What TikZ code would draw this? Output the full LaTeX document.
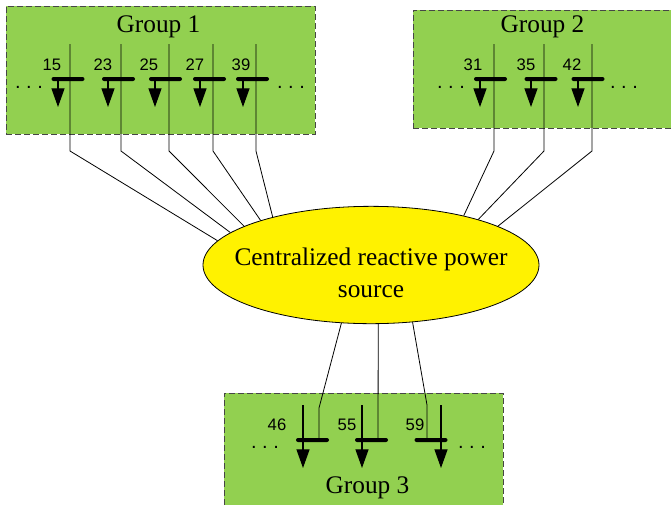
\documentclass[tikz,border=0pt]{standalone}
\usepackage{fontspec}
\setmainfont{Liberation Serif}
\setsansfont{Liberation Sans}
\usetikzlibrary{shapes,arrows,arrows.meta}

\definecolor{grpgreen}{RGB}{146,208,80}
\definecolor{edgegray}{RGB}{70,70,70}

\begin{document}
\begin{tikzpicture}[x=0.75pt,y=-0.75pt,
    group/.style={draw=edgegray,dash pattern=on 4.5pt off 2.25pt,fill=grpgreen,line width=0.75pt,inner sep=0pt},
    title/.style={font=\rmfamily\fontsize{19}{24}\selectfont,anchor=base},
    source/.style={ellipse,draw,fill=yellow,line width=0.6pt,minimum width=252pt,minimum height=88pt,inner sep=0pt},
    bus/.style={fill=black,rounded corners=1.5pt,minimum width=24.75pt,minimum height=3pt,inner sep=0pt},
    num/.style={font=\sffamily\fontsize{12.5}{14}\selectfont},
    dots/.style={font=\sffamily\fontsize{15}{16}\selectfont},
    wire/.style={line width=0.6pt},
    load/.style={line width=0.9pt,-{Triangle[length=14pt,width=9.75pt]}}]
        \useasboundingbox (0,0) rectangle (671,504);
        % groups
        \node[group,minimum width=231.75pt,minimum height=96pt] (grp1) at (160.5,70) {};
        \node[group,minimum width=200.25pt,minimum height=88.5pt] (grp2) at (546.5,69) {};
        \node[group,minimum width=209.25pt,minimum height=89.25pt] (grp3) at (363.5,452.5) {};
        \node[title] (ttl1) at (158.5,32) {Group 1};
        \node[title] (ttl2) at (542.5,32) {Group 2};
        \node[title] (ttl3) at (367.5,493) {Group 3};

        % source
        \node[source] (src) at (371,265) {};
        \node[font=\rmfamily\fontsize{19}{24}\selectfont,align=center] (srctxt) at (371,273)
          {Centralized reactive power\\source};

        % wires of group 1
        \coordinate (t15) at (70,44);  \coordinate (k15) at (70,151);
        \coordinate (t23) at (121,44); \coordinate (k23) at (121,151);
        \coordinate (t25) at (169,44); \coordinate (k25) at (169,151);
        \coordinate (t27) at (213,44); \coordinate (k27) at (213,151);
        \coordinate (t39) at (256,44); \coordinate (k39) at (256,151);
        \draw[wire] (t15) -- (k15) -- (src.171.8);
        \draw[wire] (t23) -- (k23) -- (src.167.9);
        \draw[wire] (t25) -- (k25) -- (src.163.1);
        \draw[wire] (t27) -- (k27) -- (src.158.6);
        \draw[wire] (t39) -- (k39) -- (src.154.8);

        % wires of group 2
        \coordinate (t31) at (494,44); \coordinate (k31) at (494,151);
        \coordinate (t35) at (544,44); \coordinate (k35) at (544,151);
        \coordinate (t42) at (592,44); \coordinate (k42) at (592,151);
        \draw[wire] (t31) -- (k31) -- (src.28.3);
        \draw[wire] (t35) -- (k35) -- (src.23.7);
        \draw[wire] (t42) -- (k42) -- (src.17.7);

        % wires of group 3
        \coordinate (t46) at (319,440); \coordinate (k46) at (319,408);
        \coordinate (t55) at (378,440);
        \coordinate (t59) at (427,440); \coordinate (k59) at (427,405);
        \draw[wire] (t46) -- (k46) -- (src.243.8);
        \draw[wire] (t55) -- (src.-83.1);
        \draw[wire] (t59) -- (k59) -- (src.-54.3);

        % buses of group 1
        \node[bus] (bus15) at (68,79) {};
        \node[bus] (bus23) at (118.5,79) {};
        \node[bus] (bus25) at (165.5,79) {};
        \node[bus] (bus27) at (209.5,79) {};
        \node[bus] (bus39) at (252.5,79) {};
        \node[num] (n15) at (52,65) {15};
        \node[num] (n23) at (103,65) {23};
        \node[num] (n25) at (149,65) {25};
        \node[num] (n27) at (195,65) {27};
        \node[num] (n39) at (241,65) {39};
        \draw[load] (58,79) -- (58,107);
        \draw[load] (108,79) -- (108,107);
        \draw[load] (155,79) -- (155,107);
        \draw[load] (200,79) -- (200,107);
        \draw[load] (243,79) -- (243,107);
        \node[dots] (dl1) at (29,87) {.\ .\ .};
        \node[dots] (dr1) at (291,87) {.\ .\ .};

        % buses of group 2
        \node[bus] (bus31) at (490.5,79) {};
        \node[bus] (bus35) at (541,79) {};
        \node[bus] (bus42) at (588,79) {};
        \node[num] (n31) at (473,65) {31};
        \node[num] (n35) at (526,65) {35};
        \node[num] (n42) at (572,65) {42};
        \draw[load] (480,79) -- (480,107);
        \draw[load] (531,79) -- (531,107);
        \draw[load] (578,79) -- (578,107);
        \node[dots] (dl2) at (451,87) {.\ .\ .};
        \node[dots] (dr2) at (624,87) {.\ .\ .};

        % buses of group 3
        \node[bus] (bus46) at (312.5,440) {};
        \node[bus] (bus55) at (371.5,440) {};
        \node[bus] (bus59) at (431,440) {};
        \node[num] (n46) at (277,425) {46};
        \node[num] (n55) at (347,425) {55};
        \node[num] (n59) at (415,425) {59};
        \draw[load] (303,405) -- (303,468);
        \draw[load] (362,405) -- (362,468);
        \draw[load] (441,405) -- (441,468);
        \node[dots] (dl3) at (265,447) {.\ .\ .};
        \node[dots] (dr3) at (472,447) {.\ .\ .};
      \end{tikzpicture}
\end{document}
